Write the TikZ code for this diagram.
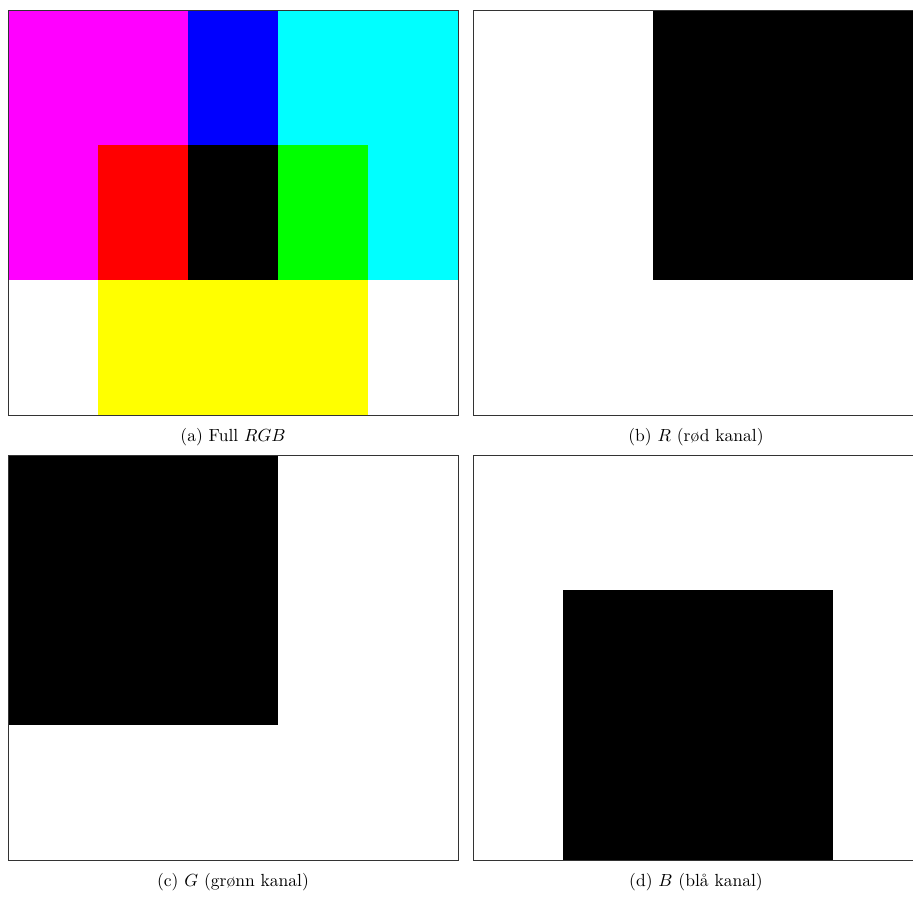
\documentclass[tikz,border=0pt]{standalone}
\usepackage{xcolor}
\definecolor{chmag}{HTML}{FF00FF}
\definecolor{chblue}{HTML}{0000FF}
\definecolor{chcyan}{HTML}{00FFFF}
\definecolor{chred}{HTML}{FF0000}
\definecolor{chgreen}{HTML}{00FF00}
\definecolor{chyellow}{HTML}{FFFF00}
\definecolor{chframe}{HTML}{333333}
\usepackage{tikz}
\usetikzlibrary{positioning}
\tikzset{
  chpanel/.style={draw=chframe,line width=0.45pt},
  chcap/.style={anchor=base,inner sep=0pt,font=\normalsize},
}

\begin{document}
\begin{tikzpicture}[x=0.57pt,y=-0.57pt]
\useasboundingbox (0,0) rectangle (913,899);
\clip (0,0) rectangle (913,899);
% (a) full image
\fill[white] (8,10) rectangle (458,415);
\fill[chmag] (8,10) rectangle (188,280);
\fill[chblue] (188,10) rectangle (278,145);
\fill[chcyan] (278,10) rectangle (458,280);
\fill[chred] (98,145) rectangle (188,280);
\fill[black] (188,145) rectangle (278,280);
\fill[chgreen] (278,145) rectangle (368,280);
\fill[chyellow] (98,280) rectangle (368,415);
\draw[chpanel] (8,10) rectangle (458,415);
\node[chcap] (capa) at (233,441) {(a) Full $RGB$};
% (b) red channel
\fill[black] (653,10) rectangle (923,280);
\draw[chpanel] (473,10) rectangle (923,415);
\node[chcap] (capb) at (696,441) {(b) $R$ (rød kanal)};
% (c) green channel
\fill[black] (8,455) rectangle (278,725);
\draw[chpanel] (8,455) rectangle (458,860);
\node[chcap] (capc) at (233,886) {(c) $G$ (grønn kanal)};
% (d) blue channel
\fill[black] (563,590) rectangle (833,860);
\draw[chpanel] (473,455) rectangle (923,860);
\node[chcap] (capd) at (696,886) {(d) $B$ (blå kanal)};
\end{tikzpicture}
\end{document}
